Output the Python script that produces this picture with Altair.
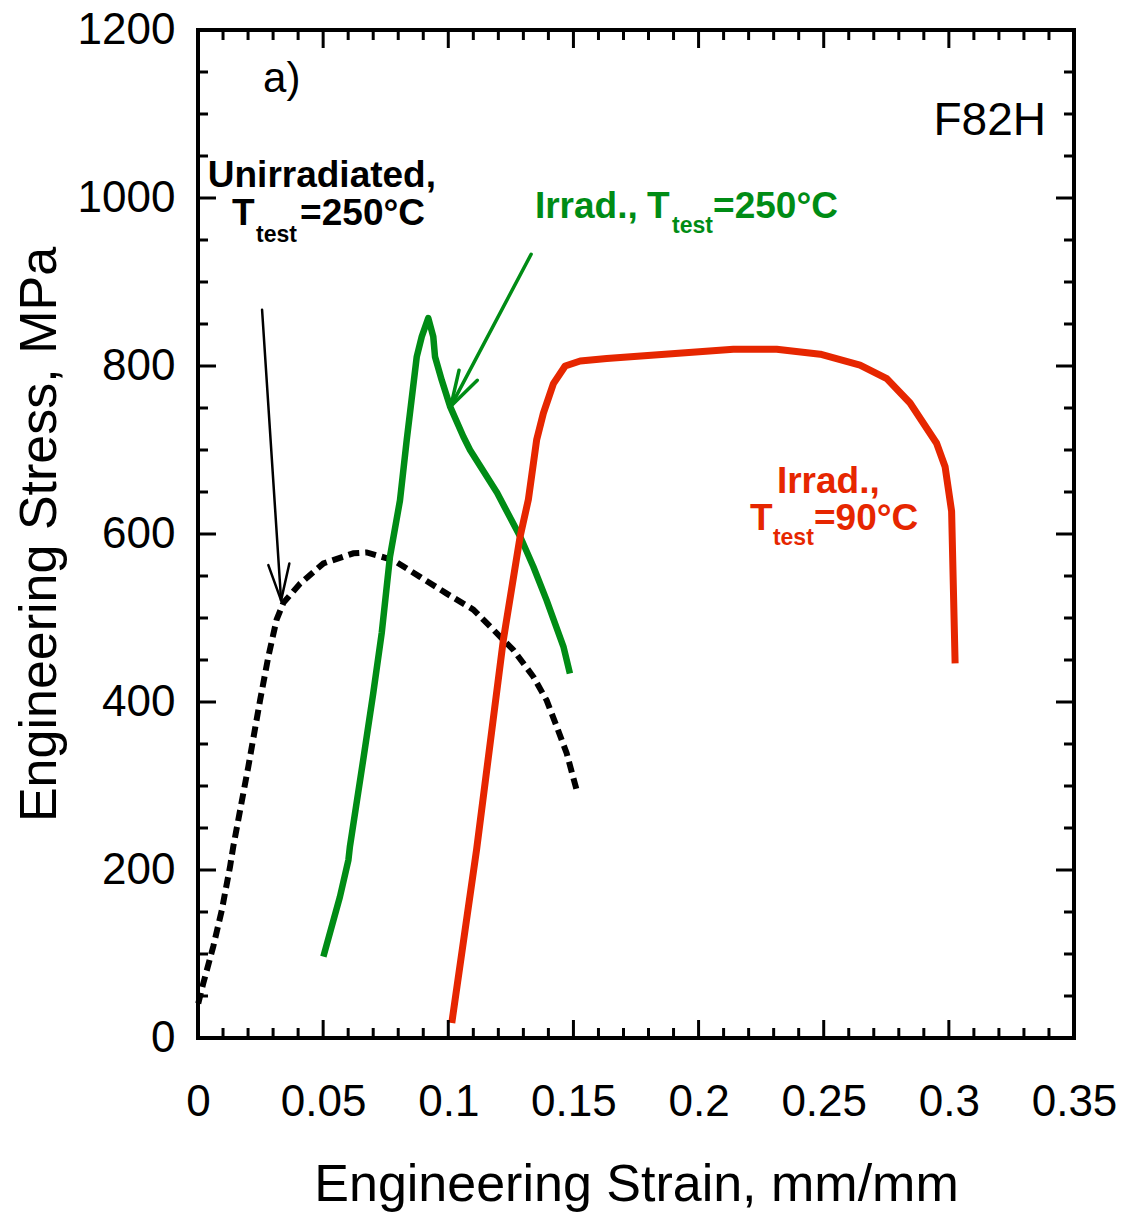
import altair as alt
import pandas as pd

# ---------------- data ----------------
# Unirradiated, T_test = 250 C (black dashed)
unirr_strain = [0.0001, 0.0021, 0.0061, 0.0095, 0.0128, 0.0141, 0.0201, 0.0248, 0.0281, 0.0314,
                0.0341, 0.0408, 0.0501, 0.0621, 0.0674, 0.0780, 0.0887, 0.0994, 0.1100, 0.1180,
                0.1260, 0.1340, 0.1393, 0.1433, 0.1473, 0.1513]
unirr_stress = [41, 65, 109, 152, 204, 228, 323, 402, 454, 498,
                518, 541, 565, 577, 578, 569, 549, 529, 510, 486,
                462, 430, 402, 371, 339, 295]

# Irradiated, T_test = 250 C (green)
irr250_strain = [0.0501, 0.0567, 0.0601, 0.0607, 0.0660, 0.0700, 0.0734, 0.0767, 0.0807, 0.0834,
                 0.0874, 0.0894, 0.0920, 0.0940, 0.0947, 0.0974, 0.1007, 0.1060, 0.1087, 0.1195,
                 0.1287, 0.1340, 0.1393, 0.1460, 0.1486]
irr250_stress = [97, 168, 212, 228, 331, 410, 482, 573, 640, 712,
                 811, 835, 857, 835, 811, 783, 752, 716, 700, 649,
                 597, 561, 521, 466, 434]

# Irradiated, T_test = 90 C (red)
irr90_strain = [0.1014, 0.1113, 0.1220, 0.1287, 0.1320, 0.1353, 0.1380, 0.1420, 0.1467, 0.1527,
                0.1633, 0.2139, 0.2312, 0.2486, 0.2645, 0.2752, 0.2845, 0.2951, 0.2985, 0.3011,
                0.3025]
irr90_stress = [18, 224, 474, 597, 641, 712, 744, 779, 800, 806,
                809, 820, 820, 814, 801, 785, 756, 708, 680, 627,
                446]

# arrows: tail, tip, two barb ends (strain, stress)
black_arrow = [(0.0256, 867), (0.0332, 521), (0.0281, 563), (0.0365, 565)]
green_arrow = [(0.1331, 933), (0.1010, 752), (0.1043, 795), (0.1116, 783)]

# tick values
x_major = [0, 0.05, 0.1, 0.15, 0.2, 0.25, 0.3, 0.35]
x_minor = [0.01, 0.02, 0.03, 0.04, 0.06, 0.07, 0.08, 0.09, 0.11, 0.12, 0.13, 0.14,
           0.16, 0.17, 0.18, 0.19, 0.21, 0.22, 0.23, 0.24, 0.26, 0.27, 0.28, 0.29,
           0.31, 0.32, 0.33, 0.34]
y_major = [0, 200, 400, 600, 800, 1000, 1200]
y_minor = [50, 100, 150, 250, 300, 350, 450, 500, 550, 650, 700, 750, 850, 900, 950,
           1050, 1100, 1150]

# annotation texts (label, strain, stress, color, size)
bold_labels = ["T", "test", "=250°C", "Irrad.,", "T", "test", "=250°C",
               "Irrad.,", "T", "test", "=90°C"]
bold_strain = [0.0136, 0.0232, 0.0408, 0.1346, 0.1794, 0.1894, 0.2058,
               0.2313, 0.2205, 0.2297, 0.2461]
bold_stress = [968, 948, 968, 976, 976, 958, 976,
               649, 605, 587, 605]
bold_colors = ["#000000"] * 3 + ["#008C15"] * 4 + ["#E62600"] * 4
bold_sizes = [37, 23, 37, 37, 37, 23, 37, 37, 37, 23, 37]

BLACK = "#000000"
GREEN = "#008C15"
RED = "#E62600"
FONT = "Liberation Sans"

# ---------------- tables ----------------
def curve(name, xs, ys):
    return pd.DataFrame({"series": name, "order": list(range(len(xs))),
                         "strain": xs, "stress": ys})

df_unirr = curve("unirr", unirr_strain, unirr_stress)
df_g = curve("g", irr250_strain, irr250_stress)
df_r = curve("r", irr90_strain, irr90_stress)

def arrow_segments(pts, color, width):
    tail, tip, a1, a2 = pts
    rows = []
    for start, end in [(tail, tip), (tip, a1), (tip, a2)]:
        rows.append({"strain": start[0], "stress": start[1],
                     "strain2": end[0], "stress2": end[1],
                     "color": color, "w": width})
    return rows

df_arrows = pd.DataFrame(arrow_segments(black_arrow, BLACK, 2.5) +
                         arrow_segments(green_arrow, GREEN, 3.5))

df_bold = pd.DataFrame({"label": bold_labels, "strain": bold_strain, "stress": bold_stress,
                        "color": bold_colors, "size": bold_sizes})

# ---------------- scales / axes ----------------
xs = alt.Scale(domain=[0, 0.35], nice=False, zero=False)
ys = alt.Scale(domain=[0, 1200], nice=False, zero=False)

xaxis = alt.Axis(values=x_major, labelExpr="toString(round(datum.value*100)/100)",
                 ticks=False, tickSize=0, domain=False, grid=False,
                 labelFont=FONT, labelFontSize=44, labelColor="black",
                 labelPadding=77, labelBaseline="alphabetic", labelFlush=False,
                 labelOverlap=False,
                 title="Engineering Strain, mm/mm", titleFont=FONT, titleFontSize=52,
                 titleFontWeight="normal", titleColor="black",
                 titleX=438, titleY=162, titleBaseline="alphabetic", titleAlign="center")
yaxis = alt.Axis(values=y_major, format="d",
                 ticks=False, tickSize=0, domain=False, grid=False,
                 labelFont=FONT, labelFontSize=44, labelColor="black",
                 labelPadding=23, labelFlush=False, labelOverlap=False,
                 title="Engineering Stress, MPa", titleFont=FONT, titleFontSize=52,
                 titleFontWeight="normal", titleColor="black",
                 titleX=-143, titleY=504, titleAngle=270,
                 titleBaseline="alphabetic", titleAlign="center")

X = alt.X("strain:Q", scale=xs, axis=xaxis)
Y = alt.Y("stress:Q", scale=ys, axis=yaxis)

# ---------------- layers ----------------
line_unirr = alt.Chart(df_unirr).mark_line(
    color=BLACK, strokeWidth=6, strokeDash=[11, 6], strokeCap="butt"
).encode(x=X, y=Y, order="order:Q")

line_g = alt.Chart(df_g).mark_line(color=GREEN, strokeWidth=6.5, strokeJoin="round").encode(
    x=X, y=Y, order="order:Q")

line_r = alt.Chart(df_r).mark_line(color=RED, strokeWidth=7, strokeJoin="round").encode(
    x=X, y=Y, order="order:Q")

arrows = alt.Chart(df_arrows).mark_rule(strokeCap="round").encode(
    x=X, y=Y, x2="strain2:Q", y2="stress2:Q",
    color=alt.Color("color:N", scale=None),
    size=alt.Size("w:Q", scale=None))

bold_text = alt.Chart(df_bold).mark_text(
    align="left", baseline="alphabetic", font=FONT, fontWeight="bold"
).encode(x=X, y=Y, text="label:N",
         color=alt.Color("color:N", scale=None),
         size=alt.Size("size:Q", scale=None))

unirr_label = alt.Chart(pd.DataFrame({"label": ["Unirradiated,"], "strain": [0.0495],
                                      "stress": [1013]})).mark_text(
    align="center", baseline="alphabetic", font=FONT, fontWeight="bold",
    fontSize=37, color=BLACK).encode(x=X, y=Y, text="label:N")

a_label = alt.Chart(pd.DataFrame({"label": ["a)"], "strain": [0.026], "stress": [1126]})).mark_text(
    align="left", baseline="alphabetic", font=FONT, fontSize=42, color=BLACK
).encode(x=X, y=Y, text="label:N")

f82h_label = alt.Chart(pd.DataFrame({"label": ["F82H"], "strain": [0.3388], "stress": [1075]})).mark_text(
    align="right", baseline="alphabetic", font=FONT, fontSize=46, color=BLACK
).encode(x=X, y=Y, text="label:N")

# inward ticks on all four sides
def xticks(vals, size, at, off):
    return alt.Chart(pd.DataFrame({"strain": vals})).mark_tick(
        orient="vertical", size=size, thickness=3, color=BLACK, yOffset=off, opacity=1
    ).encode(x=X, y=alt.datum(at))

def yticks(vals, size, at, off):
    return alt.Chart(pd.DataFrame({"stress": vals})).mark_tick(
        orient="horizontal", size=size, thickness=3, color=BLACK, xOffset=off, opacity=1
    ).encode(y=Y, x=alt.datum(at))

ticks = [
    xticks(x_major, 18, 0, -9), xticks(x_minor, 10, 0, -5),
    xticks(x_major, 18, 1200, 9), xticks(x_minor, 10, 1200, 5),
    yticks(y_major, 18, 0, 9), yticks(y_minor, 10, 0, 5),
    yticks(y_major, 18, 0.35, -9), yticks(y_minor, 10, 0.35, -5),
]

chart = alt.layer(
    line_unirr, line_g, line_r, arrows, *ticks,
    bold_text, unirr_label, a_label, f82h_label
).properties(
    width=876, height=1008,
    padding={"left": 198, "top": 30, "right": 51, "bottom": 176},
    autosize=alt.AutoSizeParams(type="none"),
    background="white",
).configure_view(stroke="black", strokeWidth=4)

chart.save("out.html", embed_options={"renderer": "svg", "actions": False})
